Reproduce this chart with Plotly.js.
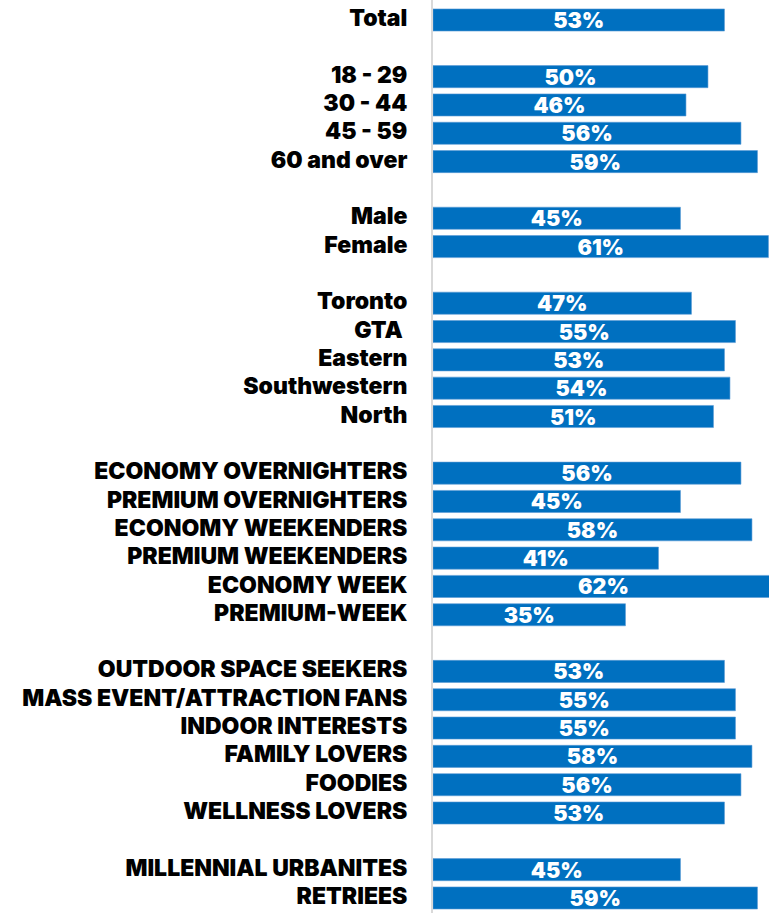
<!DOCTYPE html>
<html>
<head>
<meta charset="utf-8">
<script src="https://cdn.plot.ly/plotly-3.0.1.min.js"></script>
<style>html,body{margin:0;padding:0;overflow:hidden;background:#fff;}</style>
</head>
<body>
<div id="chart" style="width:769px;height:913px;"></div>
<script>
const categories = [
  "Total", "",
  "18 - 29", "30 - 44", "45 - 59", "60 and over", "",
  "Male", "Female", "",
  "Toronto", "GTA\u00a0", "Eastern", "Southwestern", "North", "",
  "ECONOMY OVERNIGHTERS", "PREMIUM OVERNIGHTERS", "ECONOMY WEEKENDERS", "PREMIUM WEEKENDERS", "ECONOMY WEEK", "PREMIUM-WEEK", "",
  "OUTDOOR SPACE SEEKERS", "MASS EVENT/ATTRACTION FANS", "INDOOR INTERESTS", "FAMILY LOVERS", "FOODIES", "WELLNESS LOVERS", "",
  "MILLENNIAL URBANITES", "RETRIEES"
];
const values = [
  53, null,
  50, 46, 56, 59, null,
  45, 61, null,
  47, 55, 53, 54, 51, null,
  56, 45, 58, 41, 62, 35, null,
  53, 55, 55, 58, 56, 53, null,
  45, 59
];
const positions = categories.map((c, i) => i);
const barText = values.map(v => v === null ? "" : v + "%");

const trace = {
  type: "bar",
  orientation: "h",
  y: positions,
  x: values,
  text: barText,
  texttemplate: "%{text}",
  textposition: "inside",
  insidetextanchor: "middle",
  textangle: 0,
  constraintext: "none",
  textfont: {family: "Inter", size: 21.5, color: "#ffffff", weight: 900},
  marker: {color: "#0070C0", line: {color: "#5B9BD5", width: 0.6}},
  width: 0.78,
  hoverinfo: "skip",
  cliponaxis: true
};

const layout = {
  width: 769,
  height: 913,
  margin: {l: 433, r: 0, t: 0, b: 0, pad: 0},
  paper_bgcolor: "#ffffff",
  plot_bgcolor: "#ffffff",
  showlegend: false,
  xaxis: {
    range: [0, 61.1],
    visible: false,
    showgrid: false,
    zeroline: false,
    fixedrange: true
  },
  yaxis: {
    range: [31.53, -0.706],
    tickvals: positions,
    ticktext: categories,
    tickfont: {family: "Inter", size: 23, color: "#000000", weight: 900},
    ticks: "",
    ticklabelstandoff: 19,
    ticklabelshift: 2,
    ticklabeloverflow: "allow",
    showgrid: false,
    zeroline: false,
    showline: true,
    linecolor: "#D9D9D9",
    linewidth: 2,
    fixedrange: true
  }
};

Plotly.newPlot("chart", [trace], layout, {displayModeBar: false, staticPlot: true});
</script>
</body>
</html>
